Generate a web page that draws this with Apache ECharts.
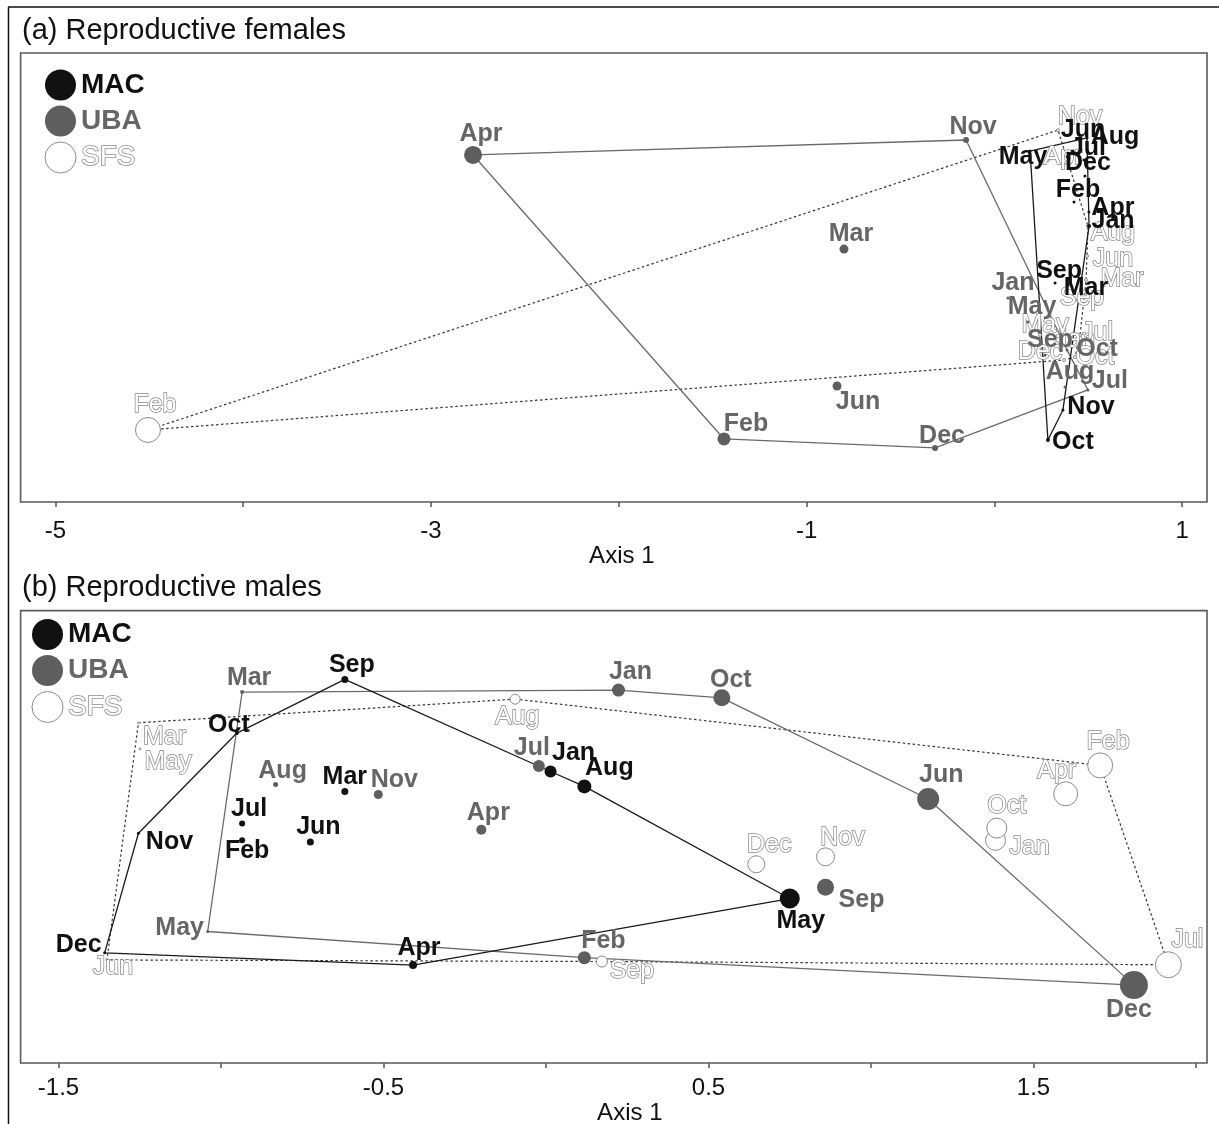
<!DOCTYPE html>
<html>
<head>
<meta charset="utf-8">
<script src="https://cdn.jsdelivr.net/npm/echarts@6/dist/echarts.min.js"></script>
<style>
  html, body { margin: 0; padding: 0; background: #fff; }
  #chart { width: 1219px; height: 1124px; }
</style>
</head>
<body>
<div id="chart"></div>
<script>
const months = ['Jan','Feb','Mar','Apr','May','Jun','Jul','Aug','Sep','Oct','Nov','Dec'];

// ---- (a) Reproductive females: ordination scores per month (Jan..Dec) ----
const femMacX = [0.504, 0.424, 0.392, 0.503, 0.190, 0.456, 0.477, 0.493, 0.323, 0.285, 0.365, 0.482];
const femMacY = [0.275, 0.404, -0.035, 0.350, 0.676, 0.730, 0.628, 0.746, -0.029, -0.869, -0.708, 0.543];
const femMacN = [4, 3, 4, 3, 3, 3, 3, 3, 3, 4, 3, 3];

const femUbaX = [0.072, -1.440, -0.801, -2.776, 0.179, -0.838, 0.498, 0.376, 0.269, 0.387, -0.151, -0.316];
const femUbaY = [-0.110, -0.863, 0.152, 0.655, -0.238, -0.580, -0.601, -0.585, -0.414, -0.388, 0.735, -0.911];
const femUbaN = [3, 13, 9, 18, 3, 9, 3, 3, 3, 3, 6, 6];

const femSfsX = [0.349, -4.507, 0.488, 0.285, 0.243, 0.493, 0.456, 0.498, 0.429, 0.429, 0.339, 0.371];
const femSfsY = [-0.361, -0.815, -0.013, 0.628, -0.307, 0.115, -0.307, 0.275, -0.120, -0.425, 0.788, -0.441];
const femSfsN = [3, 25, 3, 3, 3, 3, 3, 3, 3, 3, 3, 3];

// outline (hull) order of months for each site
const femMacHull = ['May','Aug','Jan','Nov','Oct'];
const femUbaHull = ['Apr','Nov','Oct','Jul','Dec','Feb'];
const femSfsHull = ['Feb','Nov','Aug','Jun','Mar','Jul','Oct','Dec'];

// ---- (b) Reproductive males ----
const malMacX = [0.014, -0.935, -0.619, -0.409, 0.750, -0.725, -0.935, 0.118, -0.619, -0.951, -1.254, -1.358];
const malMacY = [0.202, -0.011, 0.140, -0.397, -0.191, -0.016, 0.041, 0.156, 0.487, 0.321, 0.011, -0.359];
const malMacN = [12, 6, 7, 8, 20, 7, 6, 14, 7, 4, 3, 3];

const malUbaX = [0.223, 0.118, -0.935, -0.199, -1.041, 1.176, -0.022, -0.832, 0.860, 0.541, -0.516, 1.809];
const malUbaY = [0.454, -0.374, 0.448, 0.022, -0.293, 0.117, 0.219, 0.162, -0.156, 0.430, 0.131, -0.459];
const malUbaN = [13, 13, 4, 10, 3, 22, 12, 5, 17, 17, 9, 28];

const malSfsX = [1.383, 1.705, -1.254, 1.599, -1.249, -1.351, 1.915, -0.095, 0.172, 1.387, 0.860, 0.647];
const malSfsY = [-0.011, 0.221, 0.353, 0.133, 0.272, -0.381, -0.396, 0.426, -0.386, 0.027, -0.062, -0.085];
const malSfsN = [20, 25, 2, 24, 2, 2, 26, 10, 11, 20, 18, 17];

const malMacHull = ['Sep','Oct','Nov','Dec','Apr','May','Aug','Jan'];
const malUbaHull = ['Mar','Jan','Oct','Jun','Dec','Feb','May'];
const malSfsHull = ['Aug','Feb','Jul','Sep','Jun','Mar'];

// axis tick labels
const femTicks = [-5, -4, -3, -2, -1, 0, 1];
const femTickLabels = [-5, -3, -1, 1];
const malTicks = [-1.5, -1, -0.5, 0, 0.5, 1, 1.5, 2];
const malTickLabels = [-1.5, -0.5, 0.5, 1.5];

// label nudges (pixels) so overlapping month names stay readable
const femMacNudge = [[24,-5],[4,-12],[18,4],[24,-4],[-7,6],[3,-11],[4,-12],[28,-1],[4,-12],[25,2],[28,-3],[3,-13]];
const femUbaNudge = [[5,-15],[22,-15],[7,-15],[8,-21],[4,-15],[21,16],[22,-9],[5,-15],[5,-15],[30,-1],[7,-13],[7,-12]];
const femSfsNudge = [[15,-5],[7,-25],[36,-1],[15,-3],[5,-10],[26,3],[17,-2],[25,7],[7,-2],[20,0],[22,-13],[-24,-8]];
const malMacNudge = [[23,-18],[5,11],[0,-14],[6,-17],[11,23],[8,-15],[7,-14],[25,-18],[7,-14],[-8,-8],[31,9],[-26,-8]];
const malUbaNudge = [[12,-18],[19,-17],[7,-14],[7,-17],[-28,-3],[13,-24],[-7,-18],[7,-13],[36,13],[9,-18],[16,-14],[-5,25]];
const malSfsNudge = [[34,7],[8,-23],[26,14],[-9,-23],[28,13],[6,7],[19,-25],[2,18],[30,10],[10,-22],[17,-19],[13,-19]];

const FONT = "'Liberation Sans', Arial, Helvetica, sans-serif";

const STYLE = {
  MAC: { dot: { color: '#111' }, text: { color: '#111', fontWeight: 'bold' },
         line: { color: '#1a1a1a', width: 1.3, type: 'solid' }, z: 4 },
  UBA: { dot: { color: '#5e5e5e' }, text: { color: '#666', fontWeight: 'bold' },
         line: { color: '#6a6a6a', width: 1.3, type: 'solid' }, z: 3 },
  SFS: { dot: { color: '#fff', borderColor: '#8a8a8a', borderWidth: 1 },
         text: { color: '#fff', fontWeight: 'normal', textBorderColor: '#8a8a8a', textBorderWidth: 1.5 },
         line: { color: '#333', width: 1.2, type: [2.5, 2.5] }, z: 2 }
};

function scatterSeries(grid, site, xs, ys, ns, nudges) {
  const st = STYLE[site];
  return {
    name: site,
    type: 'scatter',
    xAxisIndex: grid, yAxisIndex: grid,
    z: st.z + 2,
    symbol: 'circle',
    symbolSize: d => d[2],
    itemStyle: Object.assign({ opacity: 1 }, st.dot),
    emphasis: { disabled: true },
    silent: true,
    label: Object.assign({
      show: true, position: 'inside', fontSize: 25, fontFamily: FONT,
      formatter: p => p.name
    }, st.text),
    data: months.map((m, i) => ({
      name: m,
      value: [xs[i], ys[i], ns[i]],
      label: { offset: nudges[i] }
    }))
  };
}

function hullSeries(grid, site, xs, ys, order) {
  const pts = order.concat(order[0]).map(m => {
    const i = months.indexOf(m);
    return [xs[i], ys[i]];
  });
  return {
    name: site + ' outline',
    type: 'line',
    xAxisIndex: grid, yAxisIndex: grid,
    z: 1,
    symbol: 'none',
    silent: true,
    lineStyle: STYLE[site].line,
    data: pts
  };
}

function xAxisFor(grid, min, max, ticks, labels, margin, namePad) {
  return {
    gridIndex: grid, type: 'value', min: min, max: max,
    position: 'bottom',
    axisLine: { show: false, onZero: false },
    splitLine: { show: false },
    axisTick: { show: true, inside: false, customValues: ticks, length: 5, lineStyle: { color: '#555', width: 1.5 } },
    axisLabel: { customValues: labels, fontSize: 24, color: '#111', margin: margin, fontFamily: FONT },
    name: 'Axis 1', nameLocation: 'middle', nameGap: 37,
    nameTextStyle: { fontSize: 24, color: '#111', fontFamily: FONT, padding: [0, 0, 0, namePad] }
  };
}

function legendFor(left, top) {
  return {
    left: left, top: top, orient: 'vertical', padding: 0,
    itemWidth: 31, itemHeight: 31, itemGap: 5,
    selectedMode: false,
    textStyle: { fontSize: 28, fontFamily: FONT },
    data: [
      { name: 'MAC', icon: 'circle', itemStyle: { color: '#111' },
        textStyle: { color: '#111', fontWeight: 'bold', fontSize: 28 } },
      { name: 'UBA', icon: 'circle', itemStyle: { color: '#5e5e5e' },
        textStyle: { color: '#666', fontWeight: 'bold', fontSize: 28 } },
      { name: 'SFS', icon: 'circle', itemStyle: { color: '#fff', borderColor: '#8a8a8a', borderWidth: 1 },
        textStyle: { color: '#fff', fontWeight: 'normal', fontSize: 28, textBorderColor: '#8a8a8a', textBorderWidth: 1.5 } }
    ]
  };
}

const gridBox = { show: true, borderColor: '#5a5a5a', borderWidth: 1.6, backgroundColor: 'transparent', outerBoundsMode: 'none' };

const option = {
  animation: false,
  backgroundColor: '#fff',
  title: [
    { text: '(a) Reproductive females', left: 22, top: 16, padding: 0,
      textStyle: { fontSize: 29, fontWeight: 'normal', color: '#111', fontFamily: FONT } },
    { text: '(b) Reproductive males', left: 22, top: 573, padding: 0,
      textStyle: { fontSize: 29, fontWeight: 'normal', color: '#111', fontFamily: FONT } }
  ],
  legend: [legendFor(44.5, 69.5), legendFor(31.5, 619)],
  grid: [
    Object.assign({ left: 20.6, top: 53, width: 1186.4, height: 449 }, gridBox),
    Object.assign({ left: 20.6, top: 610.6, width: 1186.4, height: 452.4 }, gridBox)
  ],
  xAxis: [
    xAxisFor(0, -5.1853, 1.1321, femTicks, femTickLabels, 17, 16),
    xAxisFor(1, -1.6166, 2.0338, malTicks, malTickLabels, 13, 32)
  ],
  yAxis: [
    { gridIndex: 0, type: 'value', min: -1.2, max: 1.2, show: false },
    { gridIndex: 1, type: 'value', min: -0.7, max: 0.7, show: false }
  ],
  graphic: [
    { type: 'line', shape: { x1: 8, y1: 7, x2: 1219, y2: 7 }, style: { stroke: '#111', lineWidth: 1.5 } },
    { type: 'line', shape: { x1: 8.5, y1: 7, x2: 8.5, y2: 1124 }, style: { stroke: '#111', lineWidth: 1.5 } }
  ],
  series: [
    hullSeries(0, 'SFS', femSfsX, femSfsY, femSfsHull),
    hullSeries(0, 'UBA', femUbaX, femUbaY, femUbaHull),
    hullSeries(0, 'MAC', femMacX, femMacY, femMacHull),
    scatterSeries(0, 'SFS', femSfsX, femSfsY, femSfsN, femSfsNudge),
    scatterSeries(0, 'UBA', femUbaX, femUbaY, femUbaN, femUbaNudge),
    scatterSeries(0, 'MAC', femMacX, femMacY, femMacN, femMacNudge),

    hullSeries(1, 'SFS', malSfsX, malSfsY, malSfsHull),
    hullSeries(1, 'UBA', malUbaX, malUbaY, malUbaHull),
    hullSeries(1, 'MAC', malMacX, malMacY, malMacHull),
    scatterSeries(1, 'SFS', malSfsX, malSfsY, malSfsN, malSfsNudge),
    scatterSeries(1, 'UBA', malUbaX, malUbaY, malUbaN, malUbaNudge),
    scatterSeries(1, 'MAC', malMacX, malMacY, malMacN, malMacNudge)
  ]
};

const chart = echarts.init(document.getElementById('chart'), null, { renderer: 'canvas' });
chart.setOption(option);
</script>
</body>
</html>
